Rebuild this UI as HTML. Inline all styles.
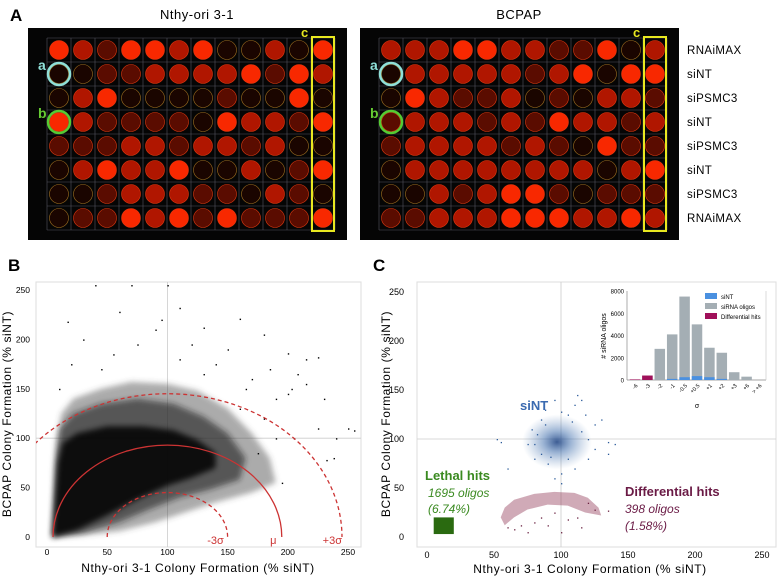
<!DOCTYPE html>
<html><head><meta charset="utf-8"><style>
html,body{margin:0;padding:0;background:#fff;}
svg{display:block;font-family:"Liberation Sans",sans-serif;}
</style></head><body>
<svg id="fig" width="778" height="580" viewBox="0 0 778 580">
<rect width="778" height="580" fill="#fff"/>
<g id="panelA"></g>
<g id="panelB"></g>
<g id="panelC"></g>
</svg>
<script>
const NS="http://www.w3.org/2000/svg";
function mk(tag,attrs,parent,text){const e=document.createElementNS(NS,tag);for(const k in attrs)e.setAttribute(k,attrs[k]);if(text!==undefined)e.textContent=text;parent.appendChild(e);return e;}

// ---------- Panel A data ----------
const plateLeft=["321332300203","001122223132","023000010030","321111032213","111221221200","023223002013","001222110210","011323131113"];
const plateRight=["222332211302","022222123033","032112010221","122212132212","122221210311","022222222023","002123310111","112223332232"];
const rowLabels=["RNAiMAX","siNT","siPSMC3","siNT","siPSMC3","siNT","siPSMC3","RNAiMAX"];
const wellColors=["#1a0500","#5a0c00","#b01600","#f82800"];

const A=document.getElementById('panelA');
const tA=mk('text',{x:10,y:21,'font-size':17,'font-weight':'bold'},A,'A');

function plate(x0,data,title,tx){
  const g=mk('g',{},A);
  
  
  const tt=mk('text',{x:tx,y:19,'font-size':13,'text-anchor':'middle','letter-spacing':'0.5'},g,title);
  
  mk('rect',{x:x0,y:28,width:319,height:212,fill:'#050505'},g);
  const gx=x0+19,gy=38,cw=24,rh=24;
  for(let c=0;c<=12;c++)mk('line',{x1:gx+c*cw,y1:gy,x2:gx+c*cw,y2:gy+8*rh,stroke:'#55555f','stroke-width':0.6},g);
  for(let r=0;r<=8;r++)mk('line',{x1:gx,y1:gy+r*rh,x2:gx+12*cw,y2:gy+r*rh,stroke:'#55555f','stroke-width':0.6},g);
  for(let r=0;r<8;r++)for(let c=0;c<12;c++){
    const lv=+data[r][c];
    const w=mk('circle',{cx:gx+c*cw+cw/2,cy:gy+r*rh+rh/2,r:9.5,fill:wellColors[lv],stroke:lv?'#e03a10':'#a07020','stroke-width':0.6},g);
    
  }
  const cx1=gx+cw/2;
  const ca=mk('circle',{cx:cx1,cy:gy+rh*1.5,r:11,fill:'none',stroke:'#8fe0d8','stroke-width':2.5},g);
  
  const cb=mk('circle',{cx:cx1,cy:gy+rh*3.5,r:11,fill:'none',stroke:'#55cc33','stroke-width':2.5},g);
  
  mk('text',{x:x0+10,y:gy+rh+8,'font-size':14,'font-weight':'bold',fill:'#8fe0d8'},g,'a');
  mk('text',{x:x0+10,y:gy+rh*3+8,'font-size':14,'font-weight':'bold',fill:'#66cc33'},g,'b');
  const cr=mk('rect',{x:gx+11*cw+1,y:gy-1,width:cw-2,height:8*rh+2,fill:'none',stroke:'#e8e820','stroke-width':2},g);
  
  mk('text',{x:gx+10*cw+14,y:gy-1,'font-size':13,'font-weight':'bold',fill:'#e8e820'},g,'c');
  return {gx,gy,rh};
}
plate(28,plateLeft,'Nthy-ori 3-1',197);
const pr=plate(360,plateRight,'BCPAP',519);
rowLabels.forEach((l,i)=>{const t=mk('text',{x:687,y:pr.gy+pr.rh*i+16,'font-size':11.5,'letter-spacing':'0.4'},A,l);
  });

// ---------- Panel B data ----------
const bTicks=[0,50,100,150,200,250];
const bCloudOuter=[[4,0],[5,30],[6,70],[8,100],[12,125],[22,140],[45,150],[70,157],[100,155],[125,148],[150,130],[170,105],[185,80],[190,55],[170,45],[140,35],[115,25],[90,15],[60,6],[30,2]];
const bCloudMid=[[4,0],[6,40],[8,85],[11,110],[22,125],[45,135],[75,140],[105,135],[130,122],[150,105],[165,80],[160,58],[135,48],[110,40],[85,28],[60,15],[30,4]];
const bCloudInner=[[5,0],[7,40],[9,75],[13,95],[25,105],[50,112],[80,112],[105,108],[125,98],[140,85],[140,70],[120,60],[100,52],[75,38],[50,22],[25,7]];
const bOutliers=[[40,255],[70,255],[100,255],[110,232],[60,228],[95,220],[17,218],[90,210],[130,212],[160,221],[180,205],[30,200],[75,195],[120,195],[150,190],[200,186],[215,180],[225,182],[208,165],[215,155],[203,150],[190,140],[230,140],[240,100],[255,108],[250,110],[225,110],[195,55],[238,80],[232,78],[180,120],[170,160],[140,175],[55,185],[20,175],[10,150],[190,100],[205,100],[175,85],[200,145],[160,130],[185,170],[165,150],[45,170],[130,165],[110,180]];
const arcs=[{label:'-3σ',rx:50,ry:45,dash:true,lx:140},{label:'μ',rx:95,ry:93,dash:false,lx:188},{label:'+3σ',rx:145,ry:145,dash:true,lx:237}];
const arcCenter=[100,0];

const B=document.getElementById('panelB');
const tB=mk('text',{x:8,y:271,'font-size':17,'font-weight':'bold'},B,'B');

const bx=v=>47+v*1.204, by=v=>537-v*0.988;
const bp=mk('rect',{x:36,y:282,width:325,height:265,fill:'#fff',stroke:'#ddd'},B);

mk('line',{x1:bx(100),y1:282,x2:bx(100),y2:547,stroke:'#ccc','stroke-width':0.8},B);
mk('line',{x1:36,y1:by(100),x2:361,y2:by(100),stroke:'#ccc','stroke-width':0.8},B);
const clip=mk('clipPath',{id:'clipB'},B);mk('rect',{x:36,y:282,width:325,height:265},clip);
const bg=mk('g',{'clip-path':'url(#clipB)'},B);
const flt=mk('filter',{id:'soft',x:'-10%',y:'-10%',width:'120%',height:'120%'},B);
mk('feGaussianBlur',{stdDeviation:3},flt);
[[bCloudOuter,'#444',0.45,'scatter-cloud-outer'],[bCloudMid,'#222',0.6,'scatter-cloud-mid'],[bCloudInner,'#000',0.85,'scatter-cloud-dense']].forEach(s=>{
  const p=mk('path',{d:'M'+s[0].map(p=>bx(p[0])+','+by(p[1])).join('L')+'Z',fill:s[1],'fill-opacity':s[2],filter:'url(#soft)'},bg);
  
});
bOutliers.forEach(p=>{const d=mk('rect',{x:bx(p[0]),y:by(p[1]),width:1.4,height:1.4,fill:'#000'},bg);
  });
arcs.forEach(a=>{
  const cx=bx(arcCenter[0]),cy=by(arcCenter[1]),rx=a.rx*1.204,ry=a.ry*0.988;
  const p=mk('path',{d:`M${cx-rx},${cy} A${rx},${ry} 0 0 1 ${cx+rx},${cy}`,fill:'none',stroke:'#cc3333','stroke-width':1.3,'stroke-dasharray':a.dash?'4,3':'none'},bg);
  
  mk('text',{x:bx(a.lx),y:544,'font-size':11,fill:'#cc3333','text-anchor':'middle'},B,a.label);
});
bTicks.forEach(v=>{
  mk('text',{x:bx(v),y:555,'font-size':8.5,'text-anchor':'middle'},B,v);
  mk('text',{x:30,y:by(v)+3,'font-size':8.5,'text-anchor':'end'},B,v);
});
const bxt=mk('text',{x:198,y:572,'font-size':12,'text-anchor':'middle','letter-spacing':'0.6'},B,'Nthy-ori 3-1 Colony Formation (% siNT)');

const byt=mk('text',{x:0,y:0,'font-size':12,'text-anchor':'middle','letter-spacing':'0.6',transform:'translate(11,414) rotate(-90)'},B,'BCPAP Colony Formation (% siNT)');


// ---------- Panel C data ----------
const cTicks=[0,50,100,150,200,250];
const siNTCenter=[97,97];
const siNTPoints=[[52,100],[55,97],[60,70],[75,95],[78,110],[80,80],[85,120],[88,130],[95,140],[100,128],[105,125],[110,135],[112,145],[115,140],[118,125],[125,115],[130,120],[135,97],[140,95],[135,85],[120,80],[110,70],[100,65],[95,60],[100,55],[90,75],[82,105],[120,100],[125,90],[105,80],[85,85],[88,115],[108,118],[115,108],[80,95],[92,82]];
const lethalBox=[5,3,20,20];
const diffBand=[[55,20],[58,30],[65,38],[80,44],[95,46],[110,45],[120,40],[128,30],[130,22],[118,25],[105,32],[90,33],[75,28],[65,20],[58,12]];
const diffPoints=[[60,10],[65,8],[70,12],[80,15],[90,12],[100,5],[105,18],[112,20],[125,28],[135,27],[120,35],[115,10],[85,20],[75,5],[95,25]];
const histCats=['-6','-3','-2','-1','-0.5','+0.5','+1','+2','+3','+6','> +6'];
const histOligos=[50,400,2800,4100,7500,5000,2900,2450,700,300,0];
const histSiNT=[0,0,0,100,250,350,250,100,0,0,0];
const histDiff=[50,400,0,0,0,0,0,0,0,0,0];
const histTicks=[0,2000,4000,6000,8000];

const C=document.getElementById('panelC');
const tC=mk('text',{x:373,y:271,'font-size':17,'font-weight':'bold'},C,'C');

const cx=v=>427+v*1.34, cy=v=>537-v*0.98;
const cp=mk('rect',{x:417,y:282,width:359,height:265,fill:'#fff',stroke:'#ddd'},C);

mk('line',{x1:cx(100),y1:282,x2:cx(100),y2:547,stroke:'#ccc','stroke-width':0.8},C);
mk('line',{x1:417,y1:cy(100),x2:776,y2:cy(100),stroke:'#ccc','stroke-width':0.8},C);
const defs=mk('defs',{},C);
const rg=mk('radialGradient',{id:'gNT'},defs);
mk('stop',{offset:'0%','stop-color':'#1a3f80','stop-opacity':0.85},rg);
mk('stop',{offset:'40%','stop-color':'#3a6aaa','stop-opacity':0.5},rg);
mk('stop',{offset:'100%','stop-color':'#6a90c0','stop-opacity':0},rg);
const sn=mk('ellipse',{cx:cx(siNTCenter[0]),cy:cy(siNTCenter[1]),rx:26*1.34,ry:28*0.98,fill:'url(#gNT)'},C);

siNTPoints.forEach(p=>{const d=mk('rect',{x:cx(p[0]),y:cy(p[1]),width:1.3,height:1.3,fill:'#2a5a9a'},C);
  });
const lb=mk('rect',{x:cx(lethalBox[0]),y:cy(lethalBox[3]),width:(lethalBox[2]-lethalBox[0])*1.34,height:(lethalBox[3]-lethalBox[1])*0.98,fill:'#2a6a10'},C);

const db=mk('path',{d:'M'+diffBand.map(p=>cx(p[0])+','+cy(p[1])).join('L')+'Z',fill:'#8a2a4a','fill-opacity':0.4},C);

diffPoints.forEach(p=>{const d=mk('rect',{x:cx(p[0]),y:cy(p[1]),width:1.3,height:1.3,fill:'#6a2040'},C);
  });
mk('text',{x:520,y:410,'font-size':13,'font-weight':'bold',fill:'#3a6ab0'},C,'siNT');
mk('text',{x:425,y:480,'font-size':13,'font-weight':'bold',fill:'#3a8a20'},C,'Lethal hits');
mk('text',{x:428,y:497,'font-size':12,'font-style':'italic',fill:'#3a8a20'},C,'1695 oligos');
mk('text',{x:428,y:513,'font-size':12,'font-style':'italic',fill:'#3a8a20'},C,'(6.74%)');
mk('text',{x:625,y:496,'font-size':13,'font-weight':'bold',fill:'#6a1a45'},C,'Differential hits');
mk('text',{x:625,y:513,'font-size':12,'font-style':'italic',fill:'#6a1a45'},C,'398 oligos');
mk('text',{x:625,y:530,'font-size':12,'font-style':'italic',fill:'#6a1a45'},C,'(1.58%)');
cTicks.forEach(v=>{
  mk('text',{x:cx(v),y:558,'font-size':9,'text-anchor':'middle'},C,v);
  mk('text',{x:404,y:cy(v)+3,'font-size':9,'text-anchor':'end'},C,v);
});
const cxt=mk('text',{x:590,y:573,'font-size':12,'text-anchor':'middle','letter-spacing':'0.6'},C,'Nthy-ori 3-1 Colony Formation (% siNT)');

const cyt=mk('text',{x:0,y:0,'font-size':12,'text-anchor':'middle','letter-spacing':'0.6',transform:'translate(390,414) rotate(-90)'},C,'BCPAP Colony Formation (% siNT)');


// inset histogram
const I=mk('g',{},C);

mk('rect',{x:598,y:286,width:175,height:125,fill:'#fff'},I);
const hx0=627,hstep=12.4,hy=v=>380-v*(89/8000),bw=10.5;
mk('line',{x1:hx0,y1:291,x2:hx0,y2:380,stroke:'#888','stroke-width':0.7},I);
mk('line',{x1:hx0,y1:380,x2:766,y2:380,stroke:'#888','stroke-width':0.7},I);
mk('line',{x1:766,y1:291,x2:766,y2:380,stroke:'#ccc','stroke-width':0.7},I);
histTicks.forEach(v=>mk('text',{x:hx0-3,y:hy(v)+2.5,'font-size':6,'text-anchor':'end'},I,v));
const hyt=mk('text',{x:0,y:0,'font-size':7,'text-anchor':'middle',transform:'translate(606,336) rotate(-90)'},I,'# siRNA oligos');

histCats.forEach((c,i)=>{
  const xc=hx0+8+i*hstep;
  const b=mk('rect',{x:xc-bw/2,y:hy(histOligos[i]),width:bw,height:380-hy(histOligos[i]),fill:'#a4aeb4'},I);
  
  if(histSiNT[i]){const s=mk('rect',{x:xc-bw/2,y:hy(histSiNT[i]),width:bw,height:380-hy(histSiNT[i]),fill:'#4a90e0'},I);
    }
  if(histDiff[i]){const d=mk('rect',{x:xc-bw/2,y:hy(histDiff[i]),width:bw,height:380-hy(histDiff[i]),fill:'#a0105a'},I);
    }
  mk('text',{x:0,y:0,'font-size':5.5,'text-anchor':'end',transform:`translate(${xc+3},386) rotate(-45)`},I,c);
});
mk('text',{x:697,y:408,'font-size':7,'text-anchor':'middle'},I,'σ');
[['siNT','#4a90e0'],['siRNA oligos','#a4aeb4'],['Differential hits','#a0105a']].forEach((l,i)=>{
  const r=mk('rect',{x:705,y:293+i*10,width:12,height:6,fill:l[1]},I);
  
  const t=mk('text',{x:721,y:299+i*10,'font-size':6},I,l[0]);
  
});
</script>
</body></html>
